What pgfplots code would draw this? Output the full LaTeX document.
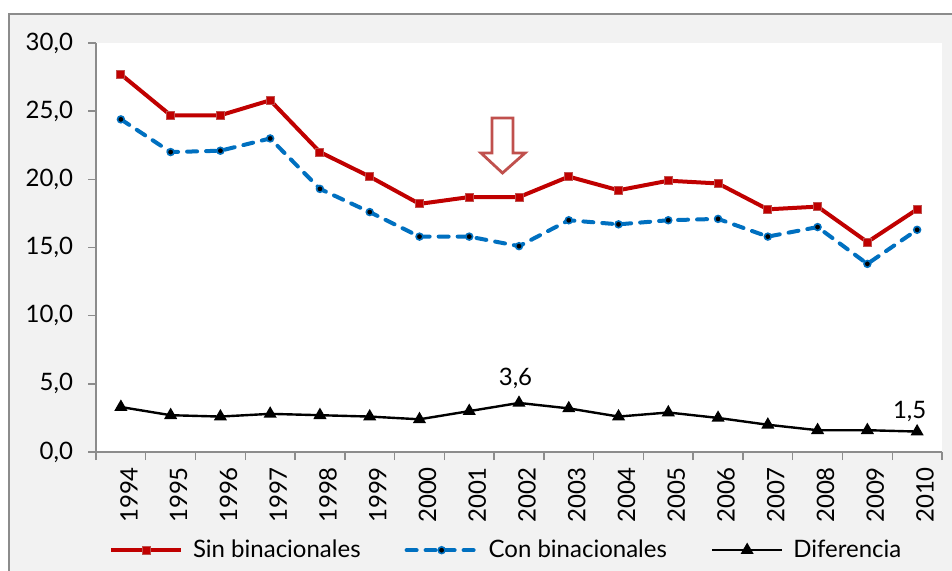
\documentclass[border=0pt]{standalone}
\usepackage{fontspec}
\setmainfont{Lato}
\usepackage{pgfplots}
\pgfplotsset{compat=1.18}
\definecolor{redline}{HTML}{C00000}
\definecolor{redmark}{HTML}{C0504D}
\definecolor{blueline}{HTML}{0070C0}
\definecolor{bg}{HTML}{F2F2F2}
\definecolor{axgray}{HTML}{8C8C8C}
\begin{document}
\begin{tikzpicture}
\useasboundingbox (0pt,0pt) rectangle (476pt,-285pt);
\fill[bg] (4.5pt,-7pt) rectangle (480pt,-290pt);
\draw[axgray, line width=0.7pt] (4.5pt,-290pt) -- (4.5pt,-7pt) -- (480pt,-7pt);
\begin{axis}[
  at={(48pt,-226pt)}, anchor=south west,
  scale only axis, width=423pt, height=204.5pt,
  xmin=-0.5, xmax=16.5, ymin=0, ymax=30,
  clip=false,
  axis background/.style={fill=white},
  axis x line*=bottom, axis y line*=left,
  axis line style={axgray, line width=0.7pt, -},
  tick align=outside,
  major tick length=4pt, minor tick length=4pt,
  ytick={0,5,...,30},
  ytick style={axgray, line width=0.7pt},
  yticklabel style={xshift=-4pt, /pgf/number format/.cd, fixed, fixed zerofill, precision=1, use comma, assume math mode=true},
  xtick={0,...,16},
  xticklabels={1994,1995,1996,1997,1998,1999,2000,2001,2002,2003,2004,2005,2006,2007,2008,2009,2010},
  major x tick style={draw=none},
  minor xtick={-0.5,0.5,...,16.5},
  minor x tick style={axgray, line width=0.7pt},
  xticklabel style={rotate=90, anchor=east, yshift=-4pt},
  tick label style={font=\fontsize{12}{14}\selectfont},
  legend style={at={(0.486,-0.24)}, anchor=center, legend columns=3, draw=none, fill=none,
    font=\fontsize{12}{14}\selectfont,
    /tikz/every odd column/.append style={column sep=3pt},
    /tikz/every even column/.append style={column sep=20pt}},
  legend image code/.code={\draw[#1, mark repeat=2, mark phase=2] plot coordinates {(0pt,0pt) (17.5pt,0pt) (35pt,0pt)};},
]
\addplot[redline, line width=2pt, mark=square*, mark size=2pt, mark options={solid, fill=redline, draw=redmark, line width=0.5pt}]
coordinates {(0,27.7) (1,24.7) (2,24.7) (3,25.8) (4,22.0) (5,20.2) (6,18.2) (7,18.7) (8,18.7) (9,20.2) (10,19.2) (11,19.9) (12,19.7) (13,17.8) (14,18.0) (15,15.4) (16,17.8)};
\addlegendentry{Sin binacionales}
\addplot[blueline, line width=2pt, line cap=round, dash pattern=on 5pt off 4.5pt, mark=*, mark size=1.7pt, mark options={solid, fill=black, draw=blueline, line width=0.8pt}]
coordinates {(0,24.4) (1,22.0) (2,22.1) (3,23.0) (4,19.3) (5,17.6) (6,15.8) (7,15.8) (8,15.1) (9,17.0) (10,16.7) (11,17.0) (12,17.1) (13,15.8) (14,16.5) (15,13.8) (16,16.3)};
\addlegendentry{Con binacionales}
\addplot[black, line width=1.2pt, mark=triangle*, mark size=2.6pt, mark options={solid, fill=black}]
coordinates {(0,3.3) (1,2.7) (2,2.6) (3,2.8) (4,2.7) (5,2.6) (6,2.4) (7,3.0) (8,3.6) (9,3.2) (10,2.6) (11,2.9) (12,2.5) (13,2.0) (14,1.6) (15,1.6) (16,1.5)};
\addlegendentry{Diferencia}
\node[font=\fontsize{12}{14}\selectfont] at (axis cs:7.93,5.4) {3,6};
\node[font=\fontsize{12}{14}\selectfont] at (axis cs:15.85,2.95) {1,5};
\end{axis}
% hollow arrow annotation
\draw[redmark, line width=1.4pt, fill=white, line join=miter]
 (246pt,-59pt) -- (256.5pt,-59pt) -- (256.5pt,-76.5pt) -- (262.5pt,-76.5pt) -- (251.25pt,-86.5pt) -- (240.5pt,-76.5pt) -- (246pt,-76.5pt) -- cycle;
\end{tikzpicture}
\end{document}
